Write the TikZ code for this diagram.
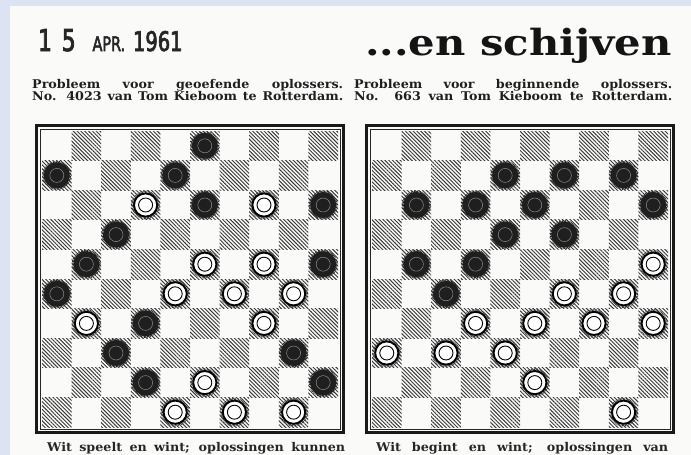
\documentclass[tikz,border=0pt]{standalone}
\usepackage{fontspec}
\setmainfont{DejaVu Serif}
\newfontfamily\stampfont[FakeStretch=0.72,FakeBold=2.5]{DejaVu Sans}
\newfontfamily\kopfont[FakeStretch=1.06]{DejaVu Serif}
\newfontfamily\titelfont[FakeStretch=1.16]{DejaVu Serif}
\usetikzlibrary{patterns.meta}
\definecolor{scanblue}{RGB}{220,228,244}
\definecolor{paper}{RGB}{250,250,249}
\tikzset{
  sq/.store in=\sqsize, sq=29.6,
  darksq/.style={pattern={Lines[angle=-45,distance=2.7pt,line width=0.95pt]},
    pattern color=black!78},
  frameout/.style={draw=black!90,line width=3.4pt},
  framein/.style={draw=black!85,line width=0.6pt},
  headline/.style={font=\kopfont\fontsize{12}{13}\selectfont\bfseries,inner sep=0pt,
    anchor=base west,text=black!88},
  titel/.style={font=\titelfont\fontsize{36}{37}\selectfont\bfseries,inner sep=0pt,
    anchor=base east,text=black!92},
  stamp/.style={font=\stampfont,inner sep=0pt,anchor=base west,text=black!85},
  footline/.style={font=\kopfont\fontsize{12}{13}\selectfont\bfseries,inner sep=0pt,
    anchor=base west,text=black!85},
  zwart/.pic={
    \draw[black!85,line width=2.2pt,dash pattern=on 0.7pt off 0.8pt]
      (0,0) circle (13.4pt);
    \fill[black!88] (0,0) circle (13pt);
    \draw[black!45,line width=0.5pt] (0,0) circle (7pt);
  },
  wit/.pic={
    \draw[black!80,line width=2pt,dash pattern=on 0.6pt off 0.9pt]
      (0,0) circle (13.4pt);
    \filldraw[fill=white,draw=black,line width=1.9pt] (0,0) circle (11.6pt);
    \draw[black,line width=0.9pt] (0,0) circle (7pt);
  },
}
% one 10x10 board with its frame, origin at its top left square
\newcommand\dambord{%
  \foreach \r in {0,...,9}
    \foreach \c in {0,...,9}{
      \pgfmathtruncatemacro\odd{mod(\r+\c,2)}
      \ifnum\odd=1
        \fill[darksq] ({\c*\sqsize},{\r*\sqsize}) rectangle ++(\sqsize,\sqsize);
      \fi
    }
  \draw[framein] (-2,-2) rectangle ({10*\sqsize+2},{10*\sqsize+2});
  \draw[frameout] (-5.6,-5.6) rectangle ({10*\sqsize+5.6},{10*\sqsize+5.6});
}
\begin{document}
\begin{tikzpicture}[x=1pt,y=-1pt]
  \useasboundingbox (0,0) rectangle (691,455);
  \fill[scanblue] (0,0) rectangle (691,455);
  \fill[paper] (10,6) rectangle (691,455);

  % header
  \node[stamp] (datum) at (38,51)
    {\fontsize{30}{30}\selectfont 1\,\,5\,\, \fontsize{20}{20}\selectfont APR.\,
     \fontsize{27}{27}\selectfont 1961};
  \node[titel] (titel) at (672,55) {...en schijven};

  \node[headline] (kop1) at (32,88)
    {\makebox[311pt][s]{Probleem voor geoefende oplossers.}};
  \node[headline] (kop2) at ([yshift=-12pt]kop1.base west)
    {\makebox[311pt][s]{No. 4023 van Tom Kieboom te Rotterdam.}};
  \node[headline] (kop3) at (354,88)
    {\makebox[318pt][s]{Probleem voor beginnende oplossers.}};
  \node[headline] (kop4) at ([yshift=-12pt]kop3.base west)
    {\makebox[318pt][s]{No. 663 van Tom Kieboom te Rotterdam.}};

  % problem 4023
  \begin{scope}[shift={(42,131)}]
    \dambord
    \foreach \r/\c in {0/5,1/0,1/4,2/5,2/9,3/2,4/1,4/9,5/0,6/3,7/2,7/8,8/3,8/9}
      \pic at ({(\c+0.5)*\sqsize},{(\r+0.5)*\sqsize}) {zwart};
    \foreach \r/\c in {2/3,2/7,4/5,4/7,5/4,5/6,5/8,6/1,6/7,8/5,9/4,9/6,9/8}
      \pic at ({(\c+0.5)*\sqsize},{(\r+0.5)*\sqsize}) {wit};
  \end{scope}

  % problem 663
  \begin{scope}[shift={(372,131)}]
    \dambord
    \foreach \r/\c in {1/4,1/6,1/8,2/1,2/3,2/5,2/9,3/4,3/6,4/1,4/3,5/2}
      \pic at ({(\c+0.5)*\sqsize},{(\r+0.5)*\sqsize}) {zwart};
    \foreach \r/\c in {4/9,5/6,5/8,6/3,6/5,6/7,6/9,7/0,7/2,7/4,8/5,9/8}
      \pic at ({(\c+0.5)*\sqsize},{(\r+0.5)*\sqsize}) {wit};
  \end{scope}

  % text below the boards
  \node[footline] (tekst1) at (47,451)
    {\makebox[298pt][s]{Wit speelt en wint; oplossingen kunnen}};
  \node[footline] (tekst2) at (376,451)
    {\makebox[292pt][s]{Wit begint en wint; oplossingen van}};
\end{tikzpicture}
\end{document}
